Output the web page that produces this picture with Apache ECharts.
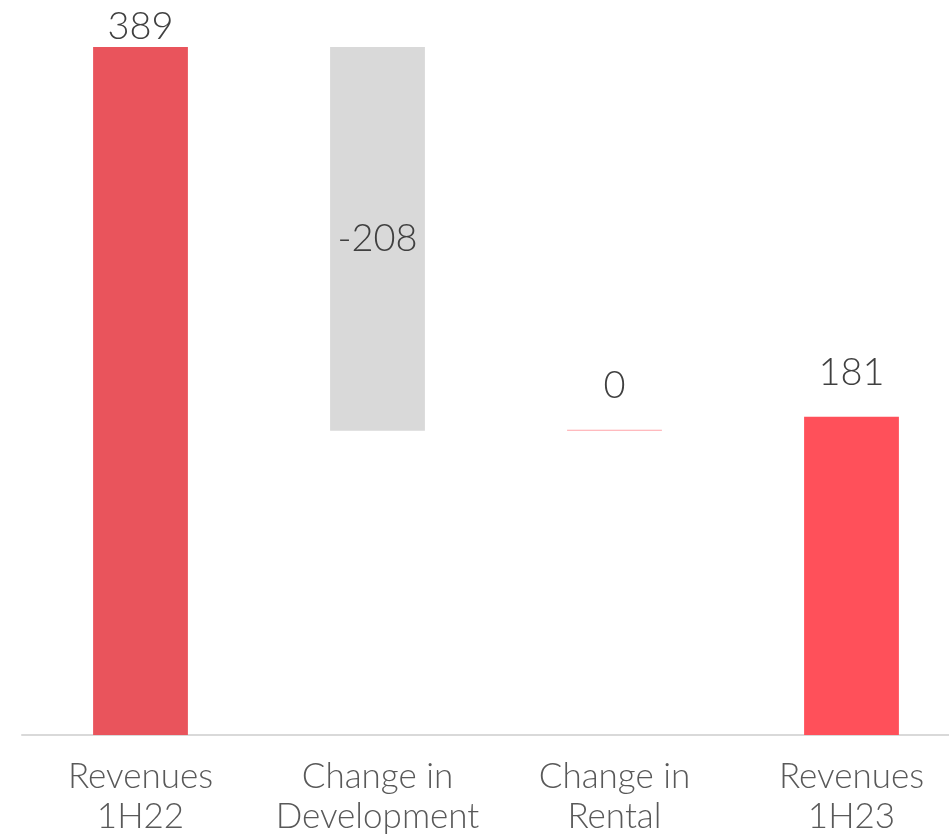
<!doctype html>
<html lang="en">
<head>
    <meta charset="UTF-8">
    <title>Revenues bridge</title>
    <script type="text/javascript" src="https://cdn.jsdelivr.net/npm/echarts@6/dist/echarts.min.js"></script>
    <style>
        html, body { margin: 0; padding: 0; background: #fff; }
        #main { width: 949px; height: 834px; }
    </style>
</head>
<body>
<div id="main"></div>
<script type="text/javascript">
    // categories and the numbers printed on the bars
    var categories = ['Revenues\n1H22', 'Change in\nDevelopment', 'Change in\nRental', 'Revenues\n1H23'];
    var shownValues = ['389', '-208', '0', '181'];
    // bottom and top of each (floating) bar
    var barLow = [0, 172, 172, 0];
    var barHigh = [389, 389, 172, 180];
    var barColors = ['#E9545C', '#D9D9D9', '#FFA3A8', '#FF505A'];

    var myChart = echarts.init(document.getElementById('main'));

    var visible = [];
    for (var i = 0; i < categories.length; i++) {
        var item = {
            value: barHigh[i] - barLow[i],
            itemStyle: { color: barColors[i] },
            label: { position: 'top', distance: 25 }
        };
        if (i === 0) item.label = { position: 'top', distance: 1 };
        if (i === 1) item.label = { position: 'inside' };
        visible.push(item);
    }

    var option = {
        animation: false,
        grid: {
            left: 22, width: 948, top: 47, bottom: 99,
            containLabel: false,
            outerBoundsMode: 'none'
        },
        xAxis: {
            type: 'category',
            data: categories,
            axisTick: { show: false },
            axisLine: { lineStyle: { color: '#D9D9D9', width: 2 } },
            axisLabel: {
                color: '#595959',
                fontFamily: 'Lato',
                fontWeight: 300,
                fontSize: 35,
                lineHeight: 40,
                margin: 22,
                interval: 0
            }
        },
        yAxis: {
            type: 'value',
            min: 0,
            max: 389,
            show: false,
            splitLine: { show: false }
        },
        series: [
            {
                type: 'bar',
                stack: 'w',
                data: barLow,
                barWidth: '40%',
                itemStyle: { color: 'transparent' },
                silent: true
            },
            {
                type: 'bar',
                stack: 'w',
                data: visible,
                barWidth: '40%',
                barMinHeight: 1,
                label: {
                    show: true,
                    color: '#404040',
                    fontFamily: 'Lato',
                    fontWeight: 300,
                    fontSize: 38,
                    formatter: function (p) { return shownValues[p.dataIndex]; }
                }
            }
        ]
    };

    myChart.setOption(option);
</script>
</body>
</html>
